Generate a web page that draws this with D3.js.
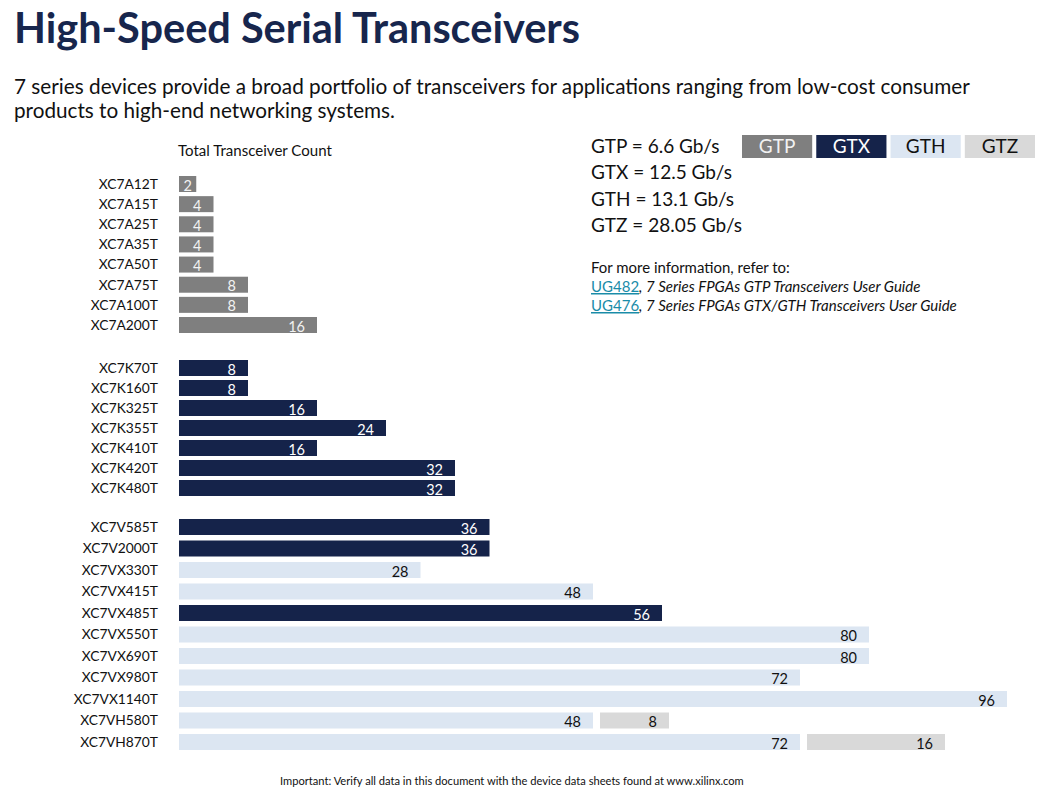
<!DOCTYPE html>
<html>
<head>
<meta charset="utf-8">
<script src="https://cdn.jsdelivr.net/npm/d3@7"></script>
<style>
  body { margin: 0; background: #fff; }
  svg { display: block; font-family: Lato, "Open Sans", sans-serif; }
</style>
</head>
<body>
<svg id="chart" width="1054" height="794"></svg>
<script>
const DEVICES = [
  "XC7A12T", "XC7A15T", "XC7A25T", "XC7A35T", "XC7A50T", "XC7A75T", "XC7A100T", "XC7A200T",
  "XC7K70T", "XC7K160T", "XC7K325T", "XC7K355T", "XC7K410T", "XC7K420T", "XC7K480T",
  "XC7V585T", "XC7V2000T", "XC7VX330T", "XC7VX415T", "XC7VX485T", "XC7VX550T",
  "XC7VX690T", "XC7VX980T", "XC7VX1140T", "XC7VH580T", "XC7VH870T"
];
const FAMILY = [0, 0, 0, 0, 0, 0, 0, 0, 1, 1, 1, 1, 1, 1, 1, 2, 2, 2, 2, 2, 2, 2, 2, 2, 2, 2];

const GTP = [2, 4, 4, 4, 4, 8, 8, 16, 0, 0, 0, 0, 0, 0, 0, 0, 0, 0, 0, 0, 0, 0, 0, 0, 0, 0];
const GTX = [0, 0, 0, 0, 0, 0, 0, 0, 8, 8, 16, 24, 16, 32, 32, 36, 36, 0, 0, 56, 0, 0, 0, 0, 0, 0];
const GTH = [0, 0, 0, 0, 0, 0, 0, 0, 0, 0, 0, 0, 0, 0, 0, 0, 0, 28, 48, 0, 80, 80, 72, 96, 48, 72];
const GTZ = [0, 0, 0, 0, 0, 0, 0, 0, 0, 0, 0, 0, 0, 0, 0, 0, 0, 0, 0, 0, 0, 0, 0, 0, 8, 16];

const SERIES = ["GTP", "GTX", "GTH", "GTZ"];
const SPEEDS = ["GTP = 6.6 Gb/s", "GTX = 12.5 Gb/s", "GTH = 13.1 Gb/s", "GTZ = 28.05 Gb/s"];

const FILL = { GTP: "#7f7f7f", GTX: "#15234a", GTH: "#dce6f2", GTZ: "#d9d9d9" };
const INK = { GTP: "#f2f2f2", GTX: "#ffffff", GTH: "#111111", GTZ: "#111111" };
const NAVY = "#17264d";

const svg = d3.select("#chart");

function fitWidth(sel, w) {
  const len = sel.node().getComputedTextLength();
  const fs = parseFloat(sel.attr("font-size"));
  sel.attr("font-size", (fs * w / len).toFixed(2));
  return sel;
}

// header
fitWidth(svg.append("text")
  .attr("x", 14).attr("y", 43)
  .attr("font-size", 38).attr("font-weight", 700)
  .attr("fill", NAVY)
  .text("High-Speed Serial Transceivers"), 566);

fitWidth(svg.append("text")
  .attr("x", 14).attr("y", 94)
  .attr("font-size", 20).attr("fill", "#111")
  .text("7 series devices provide a broad portfolio of transceivers for applications ranging from low-cost consumer"), 956);

fitWidth(svg.append("text")
  .attr("x", 14).attr("y", 118)
  .attr("font-size", 20).attr("fill", "#111")
  .text("products to high-end networking systems."), 381);

fitWidth(svg.append("text")
  .attr("x", 178).attr("y", 156)
  .attr("font-size", 14).attr("fill", "#111")
  .text("Total Transceiver Count"), 154);

// scales
const x = d3.scaleLinear().domain([0, 96]).range([179, 1007]);
const BAR_H = 16;
const GROUP_RANGES = [[184, 325], [368, 488], [527, 742]];

const rows = DEVICES.map((name, i) => ({
  name, family: FAMILY[i],
  values: { GTP: GTP[i], GTX: GTX[i], GTH: GTH[i], GTZ: GTZ[i] }
}));

const yByGroup = GROUP_RANGES.map((r, g) =>
  d3.scalePoint().domain(rows.filter(d => d.family === g).map(d => d.name)).range(r));
const yCenter = d => yByGroup[d.family](d.name);

// segments: GTZ sits after the other series with a small gap
const GAP = 7;
const segments = [];
rows.forEach(row => {
  let cum = 0, offset = 0;
  SERIES.forEach(s => {
    const v = row.values[s];
    if (!v) return;
    if (cum > 0) offset += GAP;
    segments.push({ row, series: s, value: v, x0: x(cum) + offset, x1: x(cum + v) + offset });
    cum += v;
  });
});

svg.append("g")
  .selectAll("text")
  .data(rows)
  .join("text")
  .attr("x", 158)
  .attr("y", d => yCenter(d))
  .attr("dy", "0.35em")
  .attr("text-anchor", "end")
  .attr("font-size", 13.8)
  .attr("fill", "#111")
  .text(d => d.name);

const bars = svg.append("g");
bars.selectAll("rect")
  .data(segments)
  .join("rect")
  .attr("x", d => d.x0)
  .attr("y", d => yCenter(d.row) - BAR_H / 2)
  .attr("width", d => d.x1 - d.x0)
  .attr("height", BAR_H)
  .attr("fill", d => FILL[d.series]);

bars.selectAll("text")
  .data(segments)
  .join("text")
  .attr("y", d => yCenter(d.row) + 1)
  .attr("dy", "0.38em")
  .attr("font-size", 14.5)
  .attr("fill", d => INK[d.series])
  .text(d => d.value)
  .each(function (d) {
    const t = d3.select(this);
    const tw = this.getComputedTextLength();
    if (d.x1 - d.x0 < tw + 24) {
      t.attr("text-anchor", "middle").attr("x", (d.x0 + d.x1) / 2);
    } else {
      t.attr("text-anchor", "end").attr("x", d.x1 - 12);
    }
  });

// speed list + legend
svg.append("g")
  .selectAll("text")
  .data(SPEEDS)
  .join("text")
  .attr("x", 591)
  .attr("y", (d, i) => 153 + i * 26.4)
  .attr("font-size", 19)
  .attr("fill", "#111")
  .text(d => d);

const legX = d3.scaleBand().domain(SERIES).range([742, 1035]).paddingInner(0.055);
const leg = svg.append("g")
  .selectAll("g")
  .data(SERIES)
  .join("g");
leg.append("rect")
  .attr("x", d => legX(d))
  .attr("y", 135)
  .attr("width", legX.bandwidth())
  .attr("height", 23)
  .attr("fill", d => FILL[d]);
leg.append("text")
  .attr("x", d => legX(d) + legX.bandwidth() / 2)
  .attr("y", 153)
  .attr("text-anchor", "middle")
  .attr("font-size", 19)
  .attr("fill", d => INK[d])
  .text(d => d);

// references
const LINK = "#1a8ca8";
fitWidth(svg.append("text")
  .attr("x", 591).attr("y", 273)
  .attr("font-size", 14).attr("fill", "#111")
  .text("For more information, refer to:"), 199);

const REFS = [["UG482", ", 7 Series FPGAs GTP Transceivers User Guide"],
              ["UG476", ", 7 Series FPGAs GTX/GTH Transceivers User Guide"]];
REFS.forEach((r, i) => {
  const t = svg.append("text")
    .attr("x", 591).attr("y", 292 + i * 19)
    .attr("font-size", 15).attr("fill", "#111");
  t.append("tspan").attr("fill", LINK).attr("text-decoration", "underline").text(r[0]);
  t.append("tspan").attr("font-style", "italic").text(r[1]);
});

fitWidth(svg.append("text")
  .attr("x", 280).attr("y", 785)
  .attr("font-size", 11.5).attr("fill", "#111")
  .text("Important: Verify all data in this document with the device data sheets found at www.xilinx.com"), 464);
</script>
</body>
</html>
